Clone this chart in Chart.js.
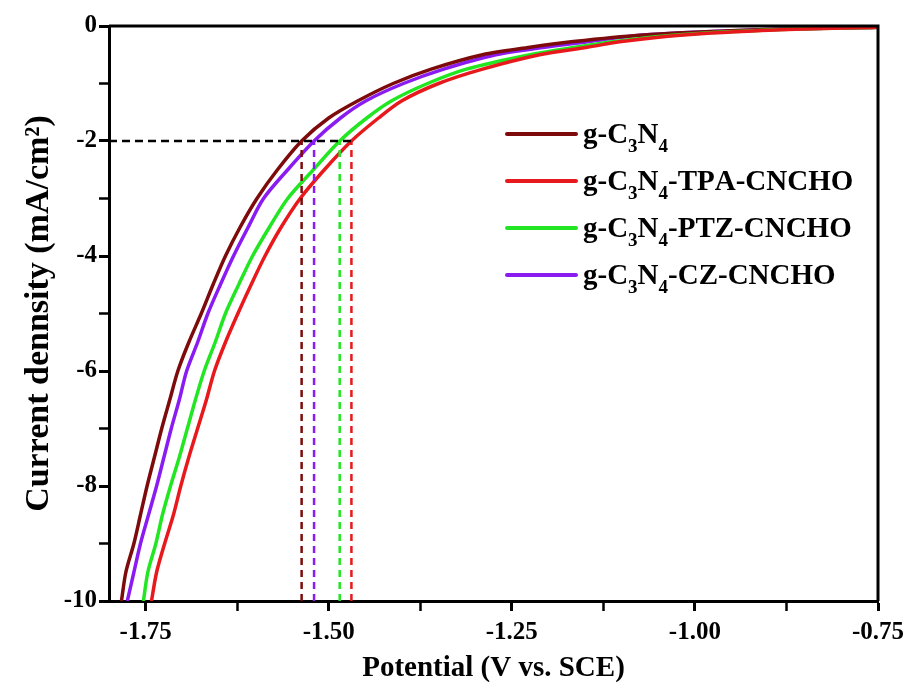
<!DOCTYPE html>
<html><head><meta charset="utf-8">
<script src="https://cdn.jsdelivr.net/npm/chart.js@4"></script>
<style>html,body{margin:0;padding:0;background:#fff}#wrap{width:913px;height:688px}</style>
</head><body><div id="wrap"><canvas id="c" width="913" height="688"></canvas></div>
<script>
// ---- data ----
const seriesNames = ['g-C₃N₄', 'g-C₃N₄-TPA-CNCHO', 'g-C₃N₄-PTZ-CNCHO', 'g-C₃N₄-CZ-CNCHO'];
const seriesColors = ['#7d0b0b', '#e8191c', '#22e622', '#8a1cf2'];
// current density levels (mA/cm2) at which each potential was read
const currentLevels = [-10, -9.5, -9, -8.5, -8, -7.5, -7, -6.5, -6, -5.5, -5, -4.5, -4, -3.5, -3, -2.5, -2, -1.6, -1.3, -1.0, -0.75, -0.5, -0.37, -0.27, -0.16, -0.07, -0.02];
const potGCN = [-1.783, -1.777, -1.766, -1.757, -1.748, -1.738, -1.728, -1.717, -1.706, -1.691, -1.674, -1.658, -1.641, -1.621, -1.598, -1.570, -1.537, -1.500, -1.460, -1.412, -1.360, -1.290, -1.225, -1.166, -1.075, -0.921, -0.75];
const potTPA = [-1.742, -1.735, -1.724, -1.712, -1.702, -1.691, -1.679, -1.667, -1.656, -1.641, -1.624, -1.606, -1.587, -1.565, -1.539, -1.506, -1.469, -1.432, -1.400, -1.350, -1.290, -1.212, -1.147, -1.100, -1.020, -0.890, -0.75];
const potPTZ = [-1.753, -1.747, -1.736, -1.727, -1.716, -1.704, -1.693, -1.682, -1.670, -1.655, -1.641, -1.623, -1.604, -1.581, -1.556, -1.521, -1.485, -1.448, -1.414, -1.365, -1.312, -1.225, -1.163, -1.110, -1.030, -0.900, -0.75];
const potCZ  = [-1.775, -1.766, -1.757, -1.746, -1.735, -1.725, -1.715, -1.704, -1.694, -1.679, -1.665, -1.648, -1.630, -1.610, -1.589, -1.556, -1.520, -1.484, -1.449, -1.398, -1.343, -1.272, -1.205, -1.143, -1.075, -0.921, -0.75];
// potentials at -2 mA/cm2 (dashed guide lines)
const refCurrent = -2;
const onsetPotentials = [-1.537, -1.469, -1.485, -1.520];
// axis ticks
const xTickValues = [-1.75, -1.625, -1.5, -1.375, -1.25, -1.125, -1.0, -0.875, -0.75];
const yTickValues = [0, -1, -2, -3, -4, -5, -6, -7, -8, -9, -10];
const xMin = -1.8, xMax = -0.75, yMin = -10, yMax = 0;

// ---- build datasets ----
const potSeries = [potGCN, potTPA, potPTZ, potCZ];
const FONT = "'Liberation Serif','Times New Roman',serif";
const curveSets = potSeries.map((p, i) => ({
  label: seriesNames[i],
  data: p.map((x, k) => ({ x: x, y: currentLevels[k] })),
  borderColor: seriesColors[i],
  backgroundColor: seriesColors[i],
  borderWidth: 3.5,
  pointRadius: 0,
  tension: 0.3,
  fill: false
}));
// draw order: red, green, dark red, purple on top
const drawOrder = [1, 2, 0, 3];
const guideSets = [];
guideSets.push({
  label: 'ref',
  data: [{ x: xMin, y: refCurrent }, { x: Math.max(...onsetPotentials), y: refCurrent }],
  borderColor: '#000', borderWidth: 2.5, borderDash: [8, 5], pointRadius: 0, fill: false
});
onsetPotentials.forEach((v, i) => {
  guideSets.push({
    label: 'v' + i,
    data: [{ x: v, y: yMin }, { x: v, y: refCurrent }],
    borderColor: seriesColors[i], borderWidth: 2.5, borderDash: [7, 5], pointRadius: 0, fill: false
  });
});
const datasets = guideSets.concat(drawOrder.map(i => curveSets[i]));

// ---- plugins ----
const framePlugin = {
  id: 'frame',
  afterDatasetsDraw(chart) {
    const a = chart.chartArea, ctx = chart.ctx;
    ctx.save();
    ctx.strokeStyle = '#000'; ctx.lineWidth = 3;
    ctx.beginPath();
    ctx.moveTo(a.left, a.top); ctx.lineTo(a.right, a.top); ctx.lineTo(a.right, a.bottom);
    ctx.stroke();
    ctx.restore();
  }
};
const legendPlugin = {
  id: 'customLegend',
  afterDraw(chart) {
    const ctx = chart.ctx;
    const x0 = 507, x1 = 576, tx = 583, rowY = [134, 181, 228, 275];
    const big = 'bold 29px ' + FONT, small = 'bold 19px ' + FONT;
    ctx.save();
    seriesNames.forEach((name, i) => {
      const y = rowY[i];
      ctx.strokeStyle = seriesColors[i]; ctx.lineWidth = 4; ctx.lineCap = 'round';
      ctx.beginPath(); ctx.moveTo(x0, y); ctx.lineTo(x1, y); ctx.stroke();
      ctx.fillStyle = '#000'; ctx.textBaseline = 'alphabetic';
      let x = tx; const base = y + 9;
      for (const ch of name) {
        if (ch === '₃' || ch === '₄') {
          ctx.font = small;
          const d = ch === '₃' ? '3' : '4';
          ctx.fillText(d, x, base + 9);
          x += ctx.measureText(d).width;
        } else {
          ctx.font = big;
          ctx.fillText(ch, x, base);
          x += ctx.measureText(ch).width;
        }
      }
    });
    ctx.restore();
  }
};

const isMajorX = v => Math.abs(v * 4 - Math.round(v * 4)) < 1e-6;
const isMajorY = v => Math.abs(v / 2 - Math.round(v / 2)) < 1e-6;

new Chart(document.getElementById('c'), {
  type: 'line',
  data: { datasets },
  plugins: [framePlugin, legendPlugin],
  options: {
    responsive: false,
    devicePixelRatio: 1,
    animation: false,
    layout: { padding: { left: 0, right: 35, top: 26, bottom: 0 } },
    plugins: { legend: { display: false }, tooltip: { enabled: false } },
    scales: {
      x: {
        type: 'linear', min: xMin, max: xMax,
        afterBuildTicks: s => { s.ticks = xTickValues.map(v => ({ value: v })); },
        afterFit: s => { s.height = 87; },
        grid: { display: true, drawOnChartArea: false, drawTicks: true, tickLength: 10,
                tickColor: '#000', tickWidth: c => isMajorX(c.tick.value) ? 3 : 2.5 },
        border: { display: true, color: '#000', width: 3 },
        ticks: { color: '#000', padding: 7, maxRotation: 0, autoSkip: false,
                 font: { family: FONT, size: 25, weight: 'bold' },
                 callback: v => isMajorX(v) ? v.toFixed(2) : '' },
        title: { display: true, text: 'Potential (V vs. SCE)', color: '#000',
                 font: { family: FONT, size: 29, weight: 'bold' }, padding: { top: 4, bottom: 2 } }
      },
      y: {
        type: 'linear', min: yMin, max: yMax,
        afterBuildTicks: s => { s.ticks = yTickValues.map(v => ({ value: v })); },
        afterFit: s => { s.width = 109; },
        grid: { display: true, drawOnChartArea: false, drawTicks: true, tickLength: 10,
                tickColor: '#000', tickWidth: c => isMajorY(c.tick.value) ? 3 : 2.5 },
        border: { display: true, color: '#000', width: 3 },
        ticks: { color: '#000', padding: 2, autoSkip: false,
                 font: { family: FONT, size: 25, weight: 'bold' },
                 callback: v => isMajorY(v) ? String(v) : '' },
        title: { display: true, text: 'Current dennsity (mA/cm²)', color: '#000',
                 font: { family: FONT, size: 34, weight: 'bold' }, padding: { top: 19, bottom: 4 } }
      }
    }
  }
});
</script>
</body></html>
